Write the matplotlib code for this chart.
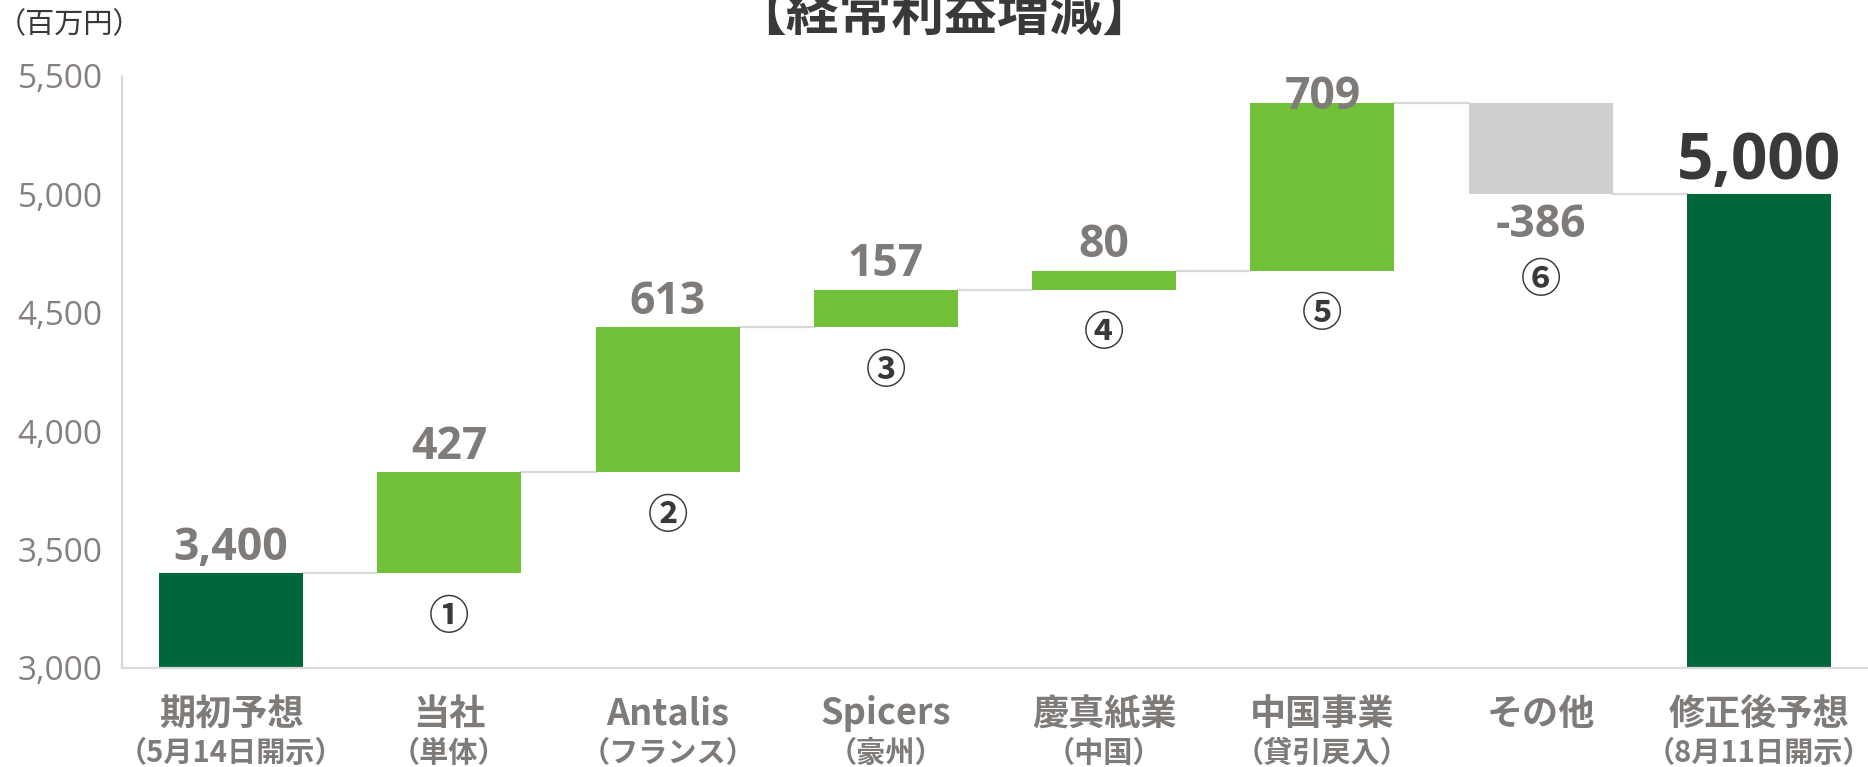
import matplotlib
matplotlib.use('Agg')
import matplotlib.pyplot as plt
import numpy as np

# ---------------- data ----------------
categories = ['期初予想', '当社', 'Antalis', 'Spicers', '慶真紙業', '中国事業', 'その他', '修正後予想']
sublabels = ['（5月14日開示）', '（単体）', '（フランス）', '（豪州）', '（中国）', '（貸引戻入）', '', '（8月11日開示）']
start_value = 3400
changes = [427, 613, 157, 80, 709, -386]
end_value = 5000
markers = ['①', '②', '③', '④', '⑤', '⑥']
yticks = [3000, 3500, 4000, 4500, 5000, 5500]
ytick_labels = ['3,000', '3,500', '4,000', '4,500', '5,000', '5,500']
title = '【経常利益増減】'
unit = '（百万円）'

# ---------------- style ----------------
C_TOTAL = '#00673A'
C_UP = '#70C138'
C_DOWN = '#D0CECE'
C_GRAY = '#7F7B79'
C_TICK = '#85807E'
C_DARK = '#3A3838'
C_LINE = '#D9D9D9'
JP = ['Noto Sans CJK JP', 'DejaVu Sans']
NUM = ['Open Sans', 'Noto Sans CJK JP', 'DejaVu Sans']

W, H, DPI = 1868, 767, 100
fig = plt.figure(figsize=(W / DPI, H / DPI), dpi=DPI)
ax_l, ax_r, ax_t, ax_b = 122, 1868, 76, 668
ax = fig.add_axes([ax_l / W, 1 - ax_b / H, (ax_r - ax_l) / W, (ax_b - ax_t) / H])

ymin, ymax = 3000, 5500
ax.set_ylim(ymin, ymax)
ax.set_xlim(-0.5, len(categories) - 0.5)
px_per_unit = (ax_b - ax_t) / (ymax - ymin)

def px(p):
    return p / px_per_unit

bw = 0.66
x = np.arange(len(categories))

# bars
levels = [start_value]
for c in changes:
    levels.append(levels[-1] + c)

bottoms = [ymin]
heights = [start_value - ymin]
colors = [C_TOTAL]
for i, c in enumerate(changes):
    prev = levels[i]
    bottoms.append(min(prev, prev + c))
    heights.append(abs(c))
    colors.append(C_UP if c > 0 else C_DOWN)
bottoms.append(ymin)
heights.append(end_value - ymin)
colors.append(C_TOTAL)

ax.bar(x, heights, bottom=bottoms, width=bw, color=colors, zorder=2)

# connectors
for i in range(len(categories) - 1):
    lvl = levels[i] if i < len(levels) else end_value
    ax.plot([x[i] + bw / 2, x[i + 1] - bw / 2], [lvl, lvl], color=C_LINE, lw=1.6, zorder=1)

# value labels
top_limit = ymax - px(22)
ax.text(x[0], start_value + px(25), f'{start_value:,}', ha='center', va='center',
        fontsize=32, fontweight='bold', color=C_GRAY, family=NUM, zorder=3)
for i, c in enumerate(changes):
    xi = x[i + 1]
    lo = bottoms[i + 1]
    hi = lo + heights[i + 1]
    if c > 0:
        yl = min(hi + px(25), top_limit)
        ax.text(xi, yl, f'{c}', ha='center', va='center', fontsize=32,
                fontweight='bold', color=C_GRAY, family=NUM, zorder=3)
        ym = lo - px(44)
    else:
        ax.text(xi, lo - px(31), f'{c}', ha='center', va='center', fontsize=32,
                fontweight='bold', color=C_GRAY, family=NUM, zorder=3)
        ym = lo - px(86)
    ax.text(xi, ym, markers[i], ha='center', va='center', fontsize=29,
            fontweight='bold', color=C_DARK, family=JP, zorder=3)
ax.text(x[-1], end_value + px(32), f'{end_value:,}', ha='center', va='center',
        fontsize=46, fontweight='bold', color=C_DARK, family=NUM, zorder=3)

# axes styling
for s in ['top', 'right']:
    ax.spines[s].set_visible(False)
for s in ['left', 'bottom']:
    ax.spines[s].set_color(C_LINE)
    ax.spines[s].set_linewidth(1.6)
    ax.spines[s].set_zorder(4)
ax.set_yticks(yticks)
ax.set_yticklabels(ytick_labels, fontsize=24, color=C_TICK, family=NUM)
ax.tick_params(axis='y', length=0, pad=14)
ax.set_xticks(x)
ax.set_xticklabels([])
ax.tick_params(axis='x', length=0)

trans = ax.get_xaxis_transform()
for i, (cat, sub) in enumerate(zip(categories, sublabels)):
    ax.annotate(cat, xy=(x[i], 0), xycoords=trans, xytext=(0, -46),
                textcoords='offset pixels', ha='center', va='center',
                fontsize=26, fontweight='bold', color=C_GRAY, family=JP,
                annotation_clip=False)
    if sub:
        ax.annotate(sub, xy=(x[i], 0), xycoords=trans, xytext=(0, -85),
                    textcoords='offset pixels', ha='center', va='center',
                    fontsize=21, fontweight='bold', color=C_GRAY, family=JP,
                    annotation_clip=False)

fig.text(944 / W, 1 - 15 / H, title, ha='center', va='center', fontsize=38,
         fontweight='bold', color=C_DARK, family=JP)
fig.text(70 / W, 1 - 25 / H, unit, ha='center', va='center', fontsize=21,
         color=C_DARK, family=JP)

fig.savefig('out.png', dpi=DPI)
